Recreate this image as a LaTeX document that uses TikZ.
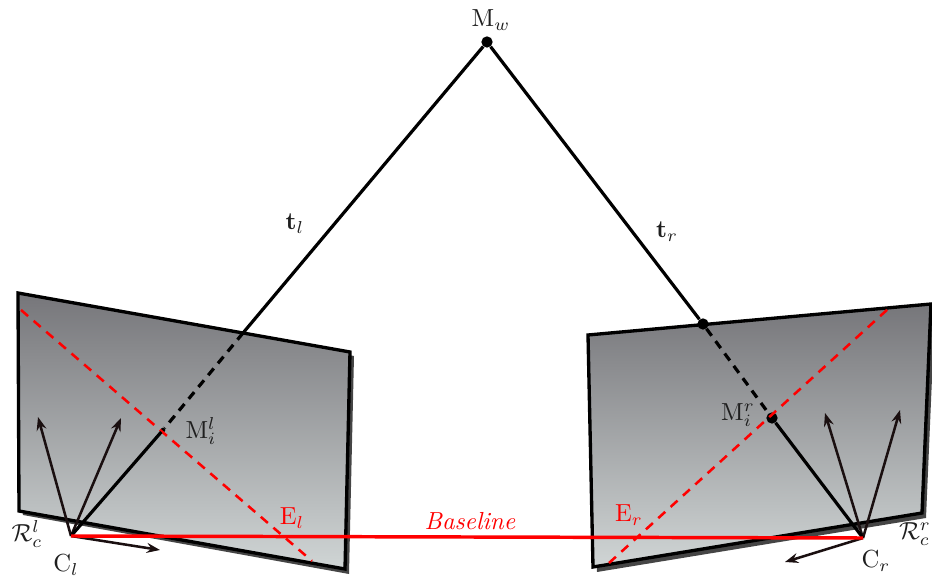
\documentclass[tikz,border=0pt]{standalone}
\usetikzlibrary{arrows.meta}
\definecolor{axisink}{HTML}{1A0F10}
\definecolor{planetop}{HTML}{76767A}
\definecolor{planebot}{HTML}{D0D5D5}
\definecolor{shadowgray}{HTML}{454545}
\tikzset{
  planeshadow/.style={fill=shadowgray,draw=none},
  planeface/.style={draw=black,line width=2.5pt,line join=miter,top color=planetop,bottom color=planebot},
  ray/.style={draw=black,line width=2.4pt},
  hidden/.style={draw=black,line width=2.4pt,dash pattern=on 6.5pt off 5pt},
  baseline/.style={draw=red,line width=2.6pt},
  epipolar/.style={draw=red,line width=1.9pt,dash pattern=on 7pt off 5.5pt},
  axis/.style={draw=axisink,line width=1.9pt,-{Stealth[length=10pt,width=7.5pt,inset=3.5pt]}},
  dotmark/.style={circle,fill=black,inner sep=0pt,minimum size=8.5pt},
  tickmark/.style={circle,fill=black,inner sep=0pt,minimum size=3.5pt},
  lbl/.style={scale=1.85,inner sep=0pt,text=black!88},
  redlbl/.style={scale=1.85,inner sep=0pt,text=red}
}
\begin{document}
\begin{tikzpicture}[x=0.75pt,y=-0.75pt]
\useasboundingbox (0,0) rectangle (932,580);
% left plane
\fill[planeshadow] (22,297) -- (354,356) -- (349,574) -- (23,515) -- cycle;
\path[planeface] (18,293) -- (350,352) -- (345,569) -- (19,511) -- cycle;
% right plane
\fill[planeshadow] (592,339) -- (935,308) -- (926,518) -- (597,572) -- cycle;
\path[planeface] (588,335) -- (931,304) -- (922,513) -- (593,567) -- cycle;
% points
\coordinate (Cl) at (71,536);
\coordinate (Cr) at (863,538);
\coordinate (Pl) at (243,333);
\node[tickmark] (Mil) at (163,430) {};
\node[dotmark] (Mw) at (487,42) {};
\node[dotmark] (Pr) at (703,324) {};
\node[dotmark] (Mir) at (772,418) {};
% epipolar lines
\coordinate (ElA) at (21,310);
\coordinate (ElB) at (312,561);
\coordinate (ErA) at (609,563);
\coordinate (ErB) at (888,309);
\draw[epipolar] (ElA) -- (ElB);
\draw[epipolar] (ErA) -- (ErB);
% frame axes
\coordinate (al1) at (38,417);
\coordinate (al2) at (121,418);
\coordinate (al3) at (160,550);
\coordinate (ar1) at (825,413);
\coordinate (ar2) at (900,410);
\coordinate (ar3) at (785,562);
\draw[axis] (Cl) -- (al1);
\draw[axis] (Cl) -- (al2);
\draw[axis] (Cl) -- (al3);
\draw[axis] (Cr) -- (ar1);
\draw[axis] (Cr) -- (ar2);
\draw[axis] (Cr) -- (ar3);
% rays
\draw[ray] (Mw) -- (Pl);
\draw[hidden] (Pl) -- (Mil);
\draw[ray] (Mil) -- (Cl);
\draw[ray] (Mw) -- (Pr);
\draw[hidden] (Pr) -- (Mir);
\draw[ray] (Mir) -- (Cr);
% baseline
\draw[baseline] (Cl) -- (Cr);
% labels
\node[lbl] (lMw) at (491,20) {$\mathrm{M}_w$};
\node[lbl] (ltl) at (295,224) {$\mathbf{t}_l$};
\node[lbl] (ltr) at (667,232) {$\mathbf{t}_r$};
\node[lbl] (lMil) at (201,431) {$\mathrm{M}_i^l$};
\node[lbl] (lMir) at (738,415) {$\mathrm{M}_i^r$};
\node[redlbl] (lEl) at (292,518) {$\mathrm{E}_l$};
\node[redlbl] (lEr) at (629,515) {$\mathrm{E}_r$};
\node[redlbl] (lB) at (470,521) {\textit{Baseline}};
\node[lbl] (lCl) at (66,565) {$\mathrm{C}_l$};
\node[lbl] (lCr) at (876,561) {$\mathrm{C}_r$};
\node[lbl] (lRl) at (27,534) {$\mathcal{R}_c^l$};
\node[lbl] (lRr) at (915,534) {$\mathcal{R}_c^r$};
\end{tikzpicture}
\end{document}
